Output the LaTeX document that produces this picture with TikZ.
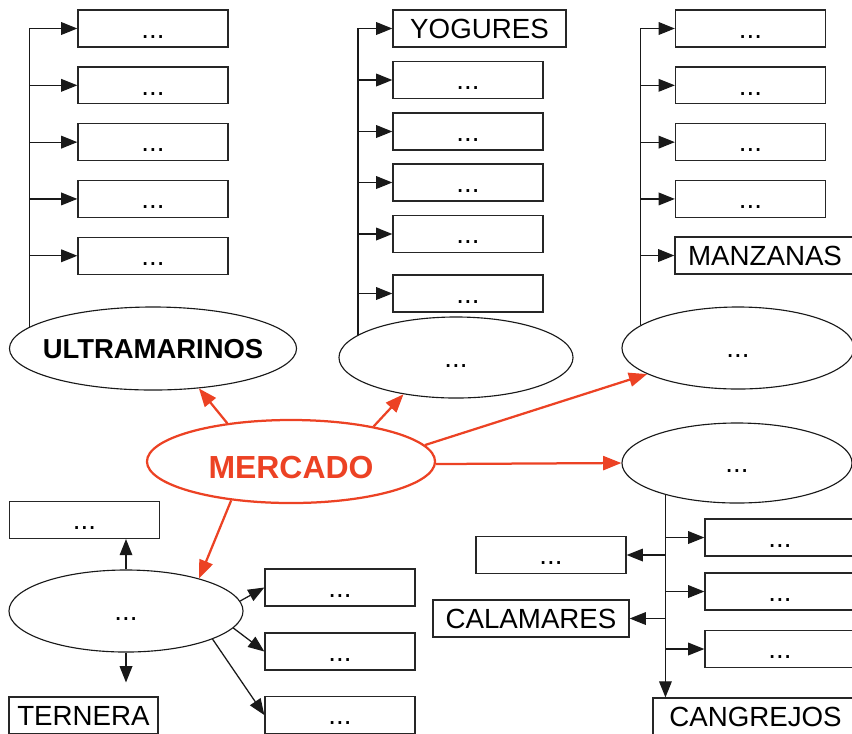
\documentclass[tikz,border=0pt]{standalone}
\usepackage{fontspec}
\setmainfont{Liberation Sans}
\usetikzlibrary{shapes.geometric,arrows.meta}
\definecolor{mercado}{RGB}{236,66,36}

\tikzstyle{block} = [draw=black!85, line width=0.9pt, rectangle, inner sep=0pt,
    minimum height=0.92cm, minimum width=3.75cm, text height=14pt, text depth=0pt]
\tikzstyle{group} = [draw=black!90, line width=0.8pt, ellipse, inner sep=0pt,
    minimum width=5.85cm, minimum height=2.05cm, text height=14pt, text depth=0pt]
\tikzstyle{hub} = [draw=mercado, line width=1.6pt, ellipse, inner sep=0pt,
    text=mercado, minimum width=7.2cm, minimum height=2.075cm,
    font=\fontsize{22.7}{26}\selectfont\bfseries, text height=24.8pt, text depth=0pt]
\tikzstyle{link} = [draw=black!90, line width=0.9pt, -{Triangle[length=11.5pt,width=9pt]}]
\tikzstyle{feed} = [draw=mercado, line width=1.6pt, -{Triangle[length=13pt,width=10pt]}]

\begin{document}
\begin{tikzpicture}[auto, x=0.025cm, y=-0.025cm, node distance=1.42cm,
    font=\fontsize{19.7}{23}\selectfont]
    \useasboundingbox (0,0) rectangle (852,733);
    \node [hub] (mercado) at (291,461.5) {MERCADO};
    \node [group, minimum width=7.175cm, minimum height=2.075cm,
        label={[font=\fontsize{19.5}{23}\selectfont\bfseries, text height=14pt]center:ULTRAMARINOS}]
        (ultra) at (153,348.5) {};
    \node [group, minimum height=2.025cm] (lacteos) at (456,357.5) {...};
    \node [group, minimum width=5.8cm] (fruta) at (738,348) {...};
    \node [group, minimum width=5.75cm, minimum height=2cm] (pescado) at (737,463) {...};
    \node [group] (carne) at (126,611) {...};

    \node [block] (ultra1) at (153,28.5) {...};
    \node [block, below of=ultra1] (ultra2) {...};
    \node [block, below of=ultra2] (ultra3) {...};
    \node [block, below of=ultra3] (ultra4) {...};
    \node [block, below of=ultra4] (ultra5) {...};

    \node [block, minimum width=4.325cm] (yogures) at (479.5,28.5) {YOGURES};
    \node [block] (lacteos2) at (468,80) {...};
    \node [block] (lacteos3) at (468,131.5) {...};
    \node [block] (lacteos4) at (468,182.5) {...};
    \node [block] (lacteos5) at (468,234) {...};
    \node [block] (lacteos6) at (468,293.5) {...};

    \node [block] (fruta1) at (750.5,28.5) {...};
    \node [block, below of=fruta1] (fruta2) {...};
    \node [block, below of=fruta2] (fruta3) {...};
    \node [block, below of=fruta3] (fruta4) {...};
    \node [block, minimum width=4.5cm] (manzanas) at (765,255.5) {MANZANAS};

    \node [block] (pescado1) at (780,537.5) {...};
    \node [block] (pescado2) at (780,591.5) {...};
    \node [block] (pescado3) at (780,649) {...};
    \node [block] (pescado4) at (551,555) {...};
    \node [block, minimum width=4.9cm] (calamares) at (531,618.5) {CALAMARES};
    \node [block, minimum width=5.125cm] (cangrejos) at (755.5,716.5) {CANGREJOS};

    \node [block] (carne1) at (84.5,520) {...};
    \node [block, minimum width=3.725cm] (ternera) at (83.5,715.5) {TERNERA};
    \node [block] (carne2) at (340,587.5) {...};
    \node [block] (carne3) at (340,651.5) {...};
    \node [block] (carne4) at (340,715) {...};

    \draw [feed] (mercado.149) -- (ultra.-41);
    \draw [feed] (mercado.23) -- (lacteos.-145);
    \draw [feed] (mercado.7) -- (fruta.-164);
    \draw [feed] (mercado.-1) -- (pescado.west);
    \draw [feed] (mercado.-147) -- (carne.24);

    \draw [link] (ultra.170) |- (ultra1);
    \draw [link] (ultra2 -| ultra.170) -- (ultra2);
    \draw [link] (ultra3 -| ultra.170) -- (ultra3);
    \draw [link] (ultra4 -| ultra.170) -- (ultra4);
    \draw [link] (ultra5 -| ultra.170) -- (ultra5);

    \draw [link] (lacteos.167) |- (yogures);
    \draw [link] (lacteos2 -| lacteos.167) -- (lacteos2);
    \draw [link] (lacteos3 -| lacteos.167) -- (lacteos3);
    \draw [link] (lacteos4 -| lacteos.167) -- (lacteos4);
    \draw [link] (lacteos5 -| lacteos.167) -- (lacteos5);
    \draw [link] (lacteos6 -| lacteos.167) -- (lacteos6);

    \draw [link] (fruta.167) |- (fruta1);
    \draw [link] (fruta2 -| fruta.167) -- (fruta2);
    \draw [link] (fruta3 -| fruta.167) -- (fruta3);
    \draw [link] (fruta4 -| fruta.167) -- (fruta4);
    \draw [link] (manzanas -| fruta.167) -- (manzanas);

    \draw [link] (pescado.204) -- (pescado.204 |- cangrejos.north);
    \draw [link] (pescado1 -| pescado.204) -- (pescado1);
    \draw [link] (pescado2 -| pescado.204) -- (pescado2);
    \draw [link] (pescado3 -| pescado.204) -- (pescado3);
    \draw [link] (pescado4 -| pescado.204) -- (pescado4);
    \draw [link] (calamares -| pescado.204) -- (calamares);

    \draw [link] (carne.north) -- (carne.north |- carne1.south);
    \draw [link, shorten >=10pt] (carne.south) -- (carne.south |- ternera.north);
    \draw [link] (carne.5) -- (carne2.west);
    \draw [link] (carne.-9) -- (carne3.west);
    \draw [link] (carne.-18) -- (carne4.west);
\end{tikzpicture}
\end{document}
